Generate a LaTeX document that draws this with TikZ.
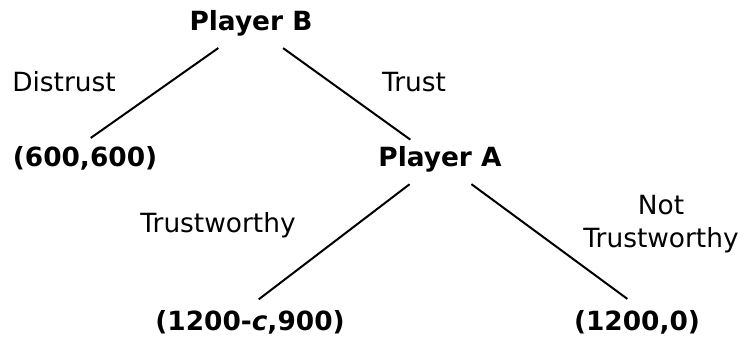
\documentclass[tikz,border=0pt]{standalone}
\usepackage{fontspec}
\setmainfont{DejaVu Sans}
\usetikzlibrary{positioning,calc}
\tikzset{player/.style={font=\fontsize{13.2}{16.4}\selectfont\bfseries,inner sep=4pt,text height=0.76em,text depth=0.24em}}
\tikzset{move/.style={font=\fontsize{13.2}{16.4}\selectfont,inner sep=0pt,align=center}}

\begin{document}
\begin{tikzpicture}[x=0.5pt,y=-0.5pt,line width=1pt]
    \useasboundingbox (0,0) rectangle (744,344);
    \node (pb) [player] at (251,25) {Player B};
    \node (pa) [player] at (440,161) {Player A};
    \node (dd) [player] at (85,161) {(600,600)};
    \node (ct) [player] at (250,325) {(1200-\textit{c},900)};
    \node (cn) [player] at (637,325) {(1200,0)};
    \node (distrust) [move] at (64,82) {Distrust};
    \node (trust) [move] at (414,82) {Trust};
    \node (tw) [move] at (218,225) {Trustworthy};
    \node (ntw) [move] at (661,224) {Not\\Trustworthy};
    \draw[shorten <=3.5pt,shorten >=3.5pt] (pb) -- (dd.north);
    \draw[shorten <=3.5pt,shorten >=2pt] (pb) -- (pa);
    \draw[shorten <=3.5pt,shorten >=5.5pt] (pa) -- (ct.north);
    \draw[shorten <=3.5pt,shorten >=6pt] (pa) -- (cn.north);
\end{tikzpicture}
\end{document}
